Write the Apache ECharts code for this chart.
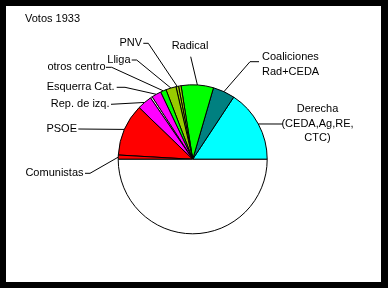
<!DOCTYPE html>
<html><head><meta charset="utf-8">
<script src="https://cdn.jsdelivr.net/npm/echarts@6/dist/echarts.min.js"></script>
<style>
html,body{margin:0;padding:0;background:#000;width:388px;height:288px;overflow:hidden}
#frame{position:absolute;left:6px;top:6px;width:375px;height:276px;background:#fff}
#chart{position:absolute;left:0;top:0;width:388px;height:288px}
</style></head><body>
<div id="frame"></div><div id="chart"></div>
<script>
// slice names (empty = unlabeled slice), in counter-clockwise order from 3 o'clock
const categories = ['Derecha\n(CEDA,Ag,RE,\nCTC)', 'Coaliciones\nRad+CEDA', 'Radical', '', 'PNV', 'Lliga', 'otros centro', 'Esquerra Cat.', '', 'Rep. de izq.', 'PSOE', 'Comunistas', ''];
// shares in degrees of the full circle (the last one is the empty half)
const values = [56.6, 17.2, 25.2, 2, 2, 8, 4.5, 7.5, 1.5, 11.5, 40.7, 3.3, 180];
const colors = ['#00FFFF','#008080','#00FF00','#99CC00','#99CC00','#99CC00','#00FF00','#FF00FF','#FFFFFF','#FF00FF','#FF0000','#FF0000','#FFFFFF'];

// label placement (layout only)
const labelPos = {
  0: {x:317.5, y:123.5, align:'center', pts:[[282.7,124]]},
  1: {x:262, y:64.5, align:'left', pts:[[250,61.7],[259,61.7]]},
  2: {x:190, y:45.5, align:'center', pts:[[190.7,56.7]]},
  4: {x:142, y:43.3, align:'right', pts:[[148.3,43.3],[143.3,43.3]]},
  5: {x:130.5, y:60, align:'right', pts:[[136.7,60],[131.7,60]]},
  6: {x:105.5, y:67.3, align:'right', pts:[[111.7,67.3],[106,67.3]]},
  7: {x:114.5, y:87.3, align:'right', pts:[[125,87.3],[116.7,87.3]]},
  9: {x:109.5, y:104.3, align:'right', pts:[[111,104.3]]},
  10: {x:77, y:129, align:'right', pts:[[78.3,129]]},
  11: {x:83.5, y:173.3, align:'right', pts:[[90,173.3],[85,173.3]]}
};

const data = categories.map((c, i) => ({
  name: c || ('s' + i),
  value: values[i],
  itemStyle: {color: colors[i]},
  label: {show: !!c},
  labelLine: {show: !!c}
}));

const chart = echarts.init(document.getElementById('chart'), null, {renderer:'canvas'});
chart.setOption({
  animation: false,
  backgroundColor: 'transparent',
  title: {
    text: 'Votos 1933', left: 25, top: 13, padding: 0,
    textStyle: {fontSize: 11, fontWeight: 'normal', color: '#000', fontFamily: 'Liberation Sans'}
  },
  series: [{
    type: 'pie',
    center: [192.7, 159.3],
    radius: 74.5,
    startAngle: 0,
    clockwise: false,
    avoidLabelOverlap: false,
    silent: true,
    data: data,
    itemStyle: {borderColor: '#000', borderWidth: 1},
    label: {
      position: 'outside', color: '#000', fontSize: 11, lineHeight: 14.5,
      fontFamily: 'Liberation Sans',
      formatter: p => categories[p.dataIndex]
    },
    labelLine: {show: true, length: 10, length2: 10, lineStyle: {color: '#000', width: 1}},
    labelLayout: function (p) {
      const L = labelPos[p.dataIndex];
      if (!L) return {};
      const edge = p.labelLinePoints ? p.labelLinePoints[0] : null;
      let pts = edge ? [edge].concat(L.pts) : undefined;
      if (pts && pts.length === 2) pts.push(pts[1]);
      return {x: L.x, y: L.y, align: L.align, verticalAlign: 'middle', labelLinePoints: pts};
    }
  }]
});
</script>
</body></html>
